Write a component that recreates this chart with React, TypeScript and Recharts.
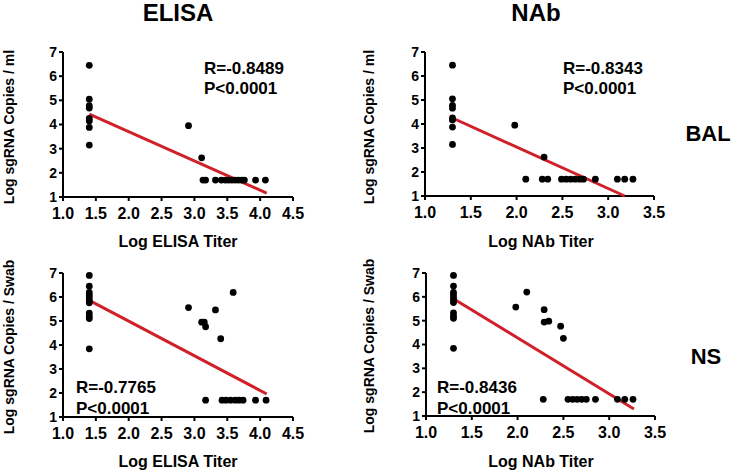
import { Scatter, ScatterChart, XAxis, YAxis } from "recharts";

const font = "'Liberation Sans', Arial, sans-serif";
const red = "#d0202a";

const yTicks = [1, 2, 3, 4, 5, 6, 7];
const elisaTicks = [1.0, 1.5, 2.0, 2.5, 3.0, 3.5, 4.0, 4.5];
const nabTicks = [1.0, 1.5, 2.0, 2.5, 3.0, 3.5];

// BAL - ELISA
const elisaBalX = [1.4, 1.4, 1.4, 1.4, 1.4, 1.4, 1.4, 1.4, 2.91, 3.11, 3.13, 3.17, 3.32, 3.41, 3.47, 3.52, 3.57, 3.62, 3.67, 3.72, 3.76, 3.93, 4.08];
const elisaBalY = [6.45, 5.05, 4.78, 4.68, 4.25, 4.15, 3.88, 3.15, 3.95, 2.62, 1.7, 1.7, 1.7, 1.7, 1.7, 1.7, 1.7, 1.7, 1.7, 1.7, 1.7, 1.7, 1.7];
const elisaBalFitX = [1.4, 4.1];
const elisaBalFitY = [4.43, 1.16];

// BAL - NAb
const nabBalX = [1.3, 1.3, 1.3, 1.3, 1.3, 1.3, 1.3, 1.3, 1.98, 2.3, 2.1, 2.28, 2.34, 2.49, 2.54, 2.59, 2.64, 2.69, 2.73, 2.86, 3.1, 3.18, 3.27];
const nabBalY = [6.45, 5.05, 4.78, 4.66, 4.25, 4.17, 3.87, 3.15, 3.95, 2.62, 1.7, 1.7, 1.7, 1.7, 1.7, 1.7, 1.7, 1.7, 1.7, 1.7, 1.7, 1.7, 1.7];
const nabBalFitX = [1.3, 3.18];
const nabBalFitY = [4.25, 1.0];

// NS - ELISA
const elisaNsX = [1.4, 1.4, 1.4, 1.4, 1.4, 1.4, 1.4, 1.4, 1.4, 1.4, 1.4, 2.91, 3.11, 3.15, 3.17, 3.32, 3.4, 3.59, 3.17, 3.42, 3.48, 3.55, 3.62, 3.68, 3.74, 3.93, 4.09];
const elisaNsY = [6.9, 6.45, 6.19, 6.08, 5.97, 5.86, 5.76, 5.33, 5.2, 5.1, 3.84, 5.56, 4.95, 4.95, 4.76, 5.46, 4.26, 6.19, 1.7, 1.7, 1.7, 1.7, 1.7, 1.7, 1.7, 1.7, 1.7];
const elisaNsFitX = [1.4, 4.1];
const elisaNsFitY = [5.86, 1.96];

// NS - NAb
const nabNsX = [1.3, 1.3, 1.3, 1.3, 1.3, 1.3, 1.3, 1.3, 1.3, 1.3, 1.3, 1.98, 2.1, 2.29, 2.29, 2.34, 2.47, 2.5, 2.28, 2.55, 2.6, 2.65, 2.7, 2.75, 2.85, 3.09, 3.17, 3.26];
const nabNsY = [6.9, 6.45, 6.19, 6.08, 5.97, 5.86, 5.76, 5.33, 5.2, 5.1, 3.84, 5.57, 6.2, 5.46, 4.94, 4.98, 4.77, 4.26, 1.7, 1.7, 1.7, 1.7, 1.7, 1.7, 1.7, 1.7, 1.7, 1.7];
const nabNsFitX = [1.3, 3.27];
const nabNsFitY = [5.92, 1.29];

const zip = (xs: number[], ys: number[]) => xs.map((x, i) => ({ x, y: ys[i] }));

function Panel({ left, top, w, h, xs, ys, fx, fy, ticks }: any) {
  const axis = { stroke: "#000", strokeWidth: 2 };
  return (
    <div style={{ position: "absolute", left: left - 60, top: top - 10 }}>
      <ScatterChart width={w + 80} height={h + 35} margin={{ top: 10, right: 20, left: 0, bottom: 0 }}>
        <XAxis
          type="number"
          dataKey="x"
          domain={[ticks[0], ticks[ticks.length - 1]]}
          ticks={ticks}
          tickFormatter={(v: number) => v.toFixed(1)}
          height={35}
          axisLine={axis}
          tickLine={axis}
          tickSize={4}
          tickMargin={7}
          interval={0}
          tick={{ fill: "#000", fontSize: 16, fontWeight: "bold", fontFamily: font }}
        />
        <YAxis
          type="number"
          dataKey="y"
          domain={[1, 7]}
          ticks={yTicks}
          width={60}
          axisLine={axis}
          tickLine={axis}
          tickSize={4}
          tickMargin={2}
          interval={0}
          tick={{ fill: "#000", fontSize: 14, fontWeight: "bold", fontFamily: font }}
        />
        <Scatter data={zip(fx, fy)} line={{ stroke: red, strokeWidth: 3 }} shape={() => <g />} isAnimationActive={false} />
        <Scatter
          data={zip(xs, ys)}
          shape={(p: any) => <circle cx={p.cx} cy={p.cy} r={3.4} fill="#000" />}
          isAnimationActive={false}
        />
      </ScatterChart>
    </div>
  );
}

const txt = { fontFamily: font, fontWeight: "bold", fill: "#000" } as const;

export default function App() {
  return (
    <div style={{ position: "absolute", left: 0, top: 0, width: 747, height: 473, background: "#fff", overflow: "hidden" }}>
      <Panel left={63} top={52} w={230} h={155} xs={elisaBalX} ys={elisaBalY} fx={elisaBalFitX} fy={elisaBalFitY} ticks={elisaTicks} />
      <Panel left={425} top={52} w={229} h={154} xs={nabBalX} ys={nabBalY} fx={nabBalFitX} fy={nabBalFitY} ticks={nabTicks} />
      <Panel left={63} top={273} w={230} h={154} xs={elisaNsX} ys={elisaNsY} fx={elisaNsFitX} fy={elisaNsFitY} ticks={elisaTicks} />
      <Panel left={426} top={273} w={229} h={153} xs={nabNsX} ys={nabNsY} fx={nabNsFitX} fy={nabNsFitY} ticks={nabTicks} />
      <svg width={747} height={473} style={{ position: "absolute", left: 0, top: 0, pointerEvents: "none" }}>
        <text x={178} y={21} textAnchor="middle" fontSize={24} {...txt}>ELISA</text>
        <text x={536} y={21} textAnchor="middle" fontSize={24} {...txt}>NAb</text>
        <text x={708} y={141} textAnchor="middle" fontSize={22} {...txt}>BAL</text>
        <text x={706} y={364} textAnchor="middle" fontSize={22} {...txt}>NS</text>

        <text x={14} y={127} textAnchor="middle" fontSize={14} transform="rotate(-90 14 127)" {...txt}>Log sgRNA Copies / ml</text>
        <text x={374} y={127} textAnchor="middle" fontSize={14} transform="rotate(-90 374 127)" {...txt}>Log sgRNA Copies / ml</text>
        <text x={14} y={347} textAnchor="middle" fontSize={14} transform="rotate(-90 14 347)" {...txt}>Log sgRNA Copies / Swab</text>
        <text x={374} y={346} textAnchor="middle" fontSize={14} transform="rotate(-90 374 346)" {...txt}>Log sgRNA Copies / Swab</text>

        <text x={178} y={247} textAnchor="middle" fontSize={16} {...txt}>Log ELISA Titer</text>
        <text x={541} y={247} textAnchor="middle" fontSize={16} {...txt}>Log NAb Titer</text>
        <text x={178} y={467} textAnchor="middle" fontSize={16} {...txt}>Log ELISA Titer</text>
        <text x={541} y={467} textAnchor="middle" fontSize={16} {...txt}>Log NAb Titer</text>

        <text x={204} y={74} fontSize={17} {...txt}>R=-0.8489</text>
        <text x={204} y={94} fontSize={17} {...txt}>P&lt;0.0001</text>
        <text x={563} y={74} fontSize={17} {...txt}>R=-0.8343</text>
        <text x={563} y={94} fontSize={17} {...txt}>P&lt;0.0001</text>
        <text x={76} y={393} fontSize={17} {...txt}>R=-0.7765</text>
        <text x={76} y={414} fontSize={17} {...txt}>P&lt;0.0001</text>
        <text x={437} y={393} fontSize={17} {...txt}>R=-0.8436</text>
        <text x={437} y={414} fontSize={17} {...txt}>P&lt;0.0001</text>
      </svg>
    </div>
  );
}
